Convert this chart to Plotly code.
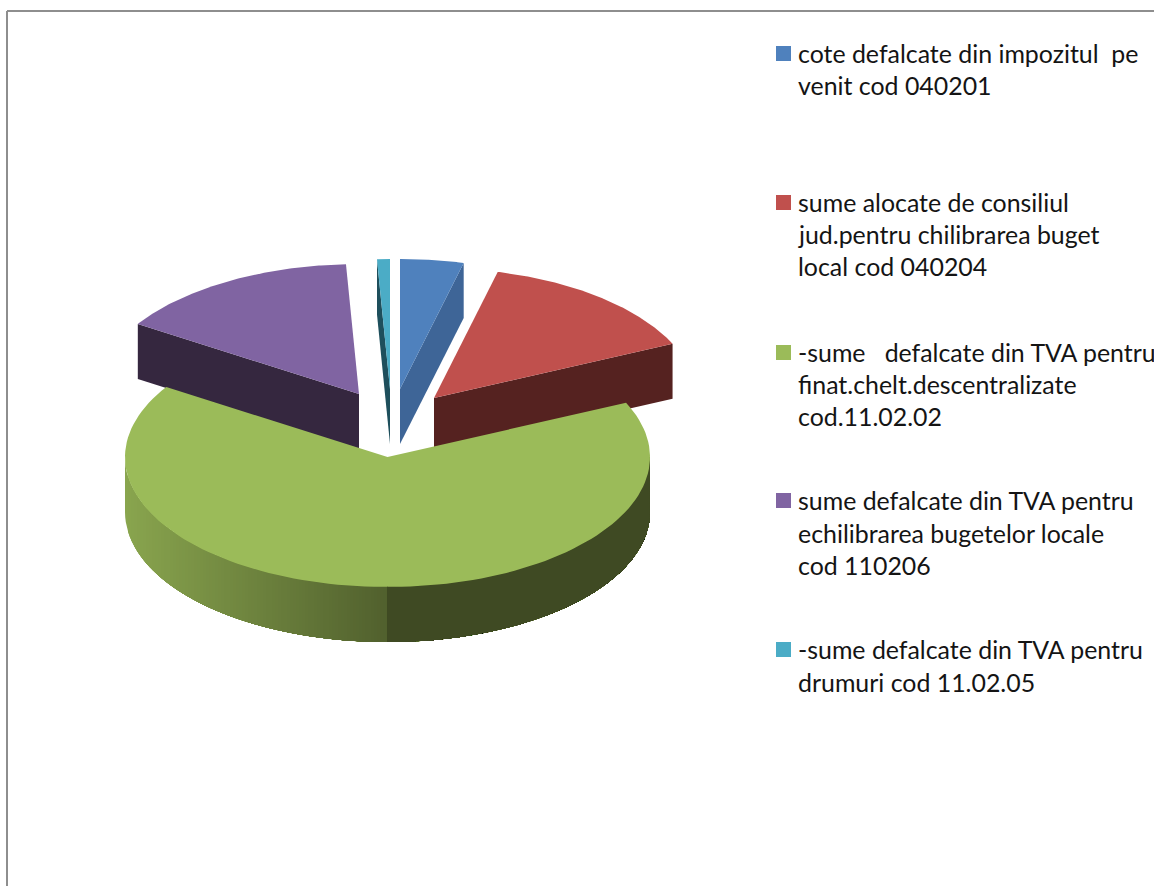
import numpy as np
import plotly.graph_objects as go

# ---------- data ----------
categories = [
    "cote defalcate din impozitul pe venit cod 040201",
    "sume alocate de consiliul jud.pentru chilibrarea buget local cod 040204",
    "-sume defalcate din TVA pentru finat.chelt.descentralizate cod.11.02.02",
    "sume defalcate din TVA pentru echilibrarea bugetelor locale cod 110206",
    "-sume defalcate din TVA pentru drumuri cod 11.02.05",
]
values = [3.9, 14.25, 65.9, 15.16, 0.79]
legend_lines = [
    ["cote defalcate din impozitul\u00a0 pe", "venit cod 040201"],
    ["sume alocate de consiliul", "jud.pentru chilibrarea buget", "local cod 040204"],
    ["-sume \u00a0 defalcate din TVA pentru", "finat.chelt.descentralizate", "cod.11.02.02"],
    ["sume defalcate din TVA pentru", "echilibrarea bugetelor locale", "cod 110206"],
    ["-sume defalcate din TVA pentru", "drumuri cod 11.02.05"],
]

# ---------- style / layout ----------
top_colors = ["#4F81BD", "#C0504D", "#9BBB59", "#8064A2", "#4BACC6"]
cut_colors = ["#3E6597", "#552220", "#3F4A23", "#35273F", "#1E4F5C"]
CX, CY, RX, RY, DEPTH = 387.5, 457.0, 262.5, 130.0, 55.0
offsets = [(12.5, -68), (46.5, -59), (0, 0), (-28.5, -63), (2.5, -68)]
legend_line_y = [[53, 85], [202, 234, 266], [352, 384, 416], [500, 533, 565], [649, 682]]
FONT = dict(family="Lato", size=24.9, color="#141414")
TEXT_X, SWATCH_X = 798, 783.5
GRAD_L, GRAD_R = np.array([137, 165, 78]), np.array([63, 74, 35])
GRAD_X0, GRAD_X1 = 125, 470
STRIP_PX = 3

total = sum(values)
edges = np.concatenate([[0], np.cumsum(values)]) / total * 2 * np.pi


def px(theta, off=(0, 0), drop=0.0):
    return CX + off[0] + RX * np.sin(theta), CY + off[1] - RY * np.cos(theta) + drop


def poly(xs, ys, color):
    return go.Scatter(x=list(xs), y=list(ys), mode="lines", fill="toself", fillcolor=color,
                      line=dict(width=0, color=color), hoverinfo="skip", showlegend=False)


def top_face(i):
    th = np.linspace(edges[i], edges[i + 1], 120)
    ax, ay = px(th, offsets[i])
    x0, y0 = CX + offsets[i][0], CY + offsets[i][1]
    return poly([x0, *ax, x0], [y0, *ay, y0], top_colors[i])


def cut_face(i, theta):
    x0, y0 = CX + offsets[i][0], CY + offsets[i][1]
    ax, ay = px(theta, offsets[i])
    return poly([x0, ax, ax, x0, x0], [y0, ay, ay + DEPTH, y0 + DEPTH, y0], cut_colors[i])


def gradient(x):
    t = np.clip((x - GRAD_X0) / (GRAD_X1 - GRAD_X0), 0, 1)
    r, g, b = GRAD_L + (GRAD_R - GRAD_L) * t
    return f"rgb({r:.0f},{g:.0f},{b:.0f})"


fig = go.Figure()

# outer wall of the big slice: painted left to right, each layer reaching the right end,
# so that no seam lets the background through
for strip_x in np.arange(CX - RX, CX + RX, STRIP_PX):
    start = np.pi + np.arcsin(np.clip((CX - strip_x) / RX, 0, 1))
    th = np.linspace(start, np.pi / 2, 80)
    ax, ay = px(th)
    fig.add_trace(poly([*ax, *ax[::-1], ax[0]], [*ay, *(ay[::-1] + DEPTH), ay[0]],
                       gradient(strip_x + STRIP_PX / 2)))

fig.add_trace(cut_face(3, edges[3]))
fig.add_trace(cut_face(1, edges[2]))
fig.add_trace(top_face(2))
fig.add_trace(top_face(1))
fig.add_trace(top_face(3))
fig.add_trace(cut_face(4, edges[4]))
fig.add_trace(top_face(4))
fig.add_trace(cut_face(0, edges[1]))
fig.add_trace(top_face(0))

# legend swatches and text
annotations = []
for name, lines, ys, col in zip(categories, legend_lines, legend_line_y, top_colors):
    fig.add_trace(go.Scatter(x=[SWATCH_X], y=[ys[0] + 0.5], mode="markers", name=name,
                             marker=dict(symbol="square", size=15, color=col, line=dict(width=0)),
                             hoverinfo="skip", showlegend=False))
    for line, y in zip(lines, ys):
        annotations.append(dict(x=TEXT_X, y=y, xref="x", yref="y", text=line, showarrow=False,
                                xanchor="left", yanchor="middle", font=FONT,
                                borderpad=0, borderwidth=0))

border = dict(color="#8E8E8E", width=2)
fig.update_layout(
    width=1154, height=886, margin=dict(l=0, r=0, t=0, b=0),
    paper_bgcolor="white", plot_bgcolor="white", showlegend=False,
    xaxis=dict(range=[0, 1154], visible=False, fixedrange=True),
    yaxis=dict(range=[886, 0], visible=False, fixedrange=True),
    annotations=annotations,
    shapes=[
        dict(type="line", xref="x", yref="y", x0=7, y0=11, x1=1154, y1=11, line=border),
        dict(type="line", xref="x", yref="y", x0=7, y0=11, x1=7, y1=886, line=border),
    ],
)
fig.write_html("out.html", config={"displayModeBar": False},
               post_script="document.body.style.margin='0';document.body.style.overflow='hidden';")
